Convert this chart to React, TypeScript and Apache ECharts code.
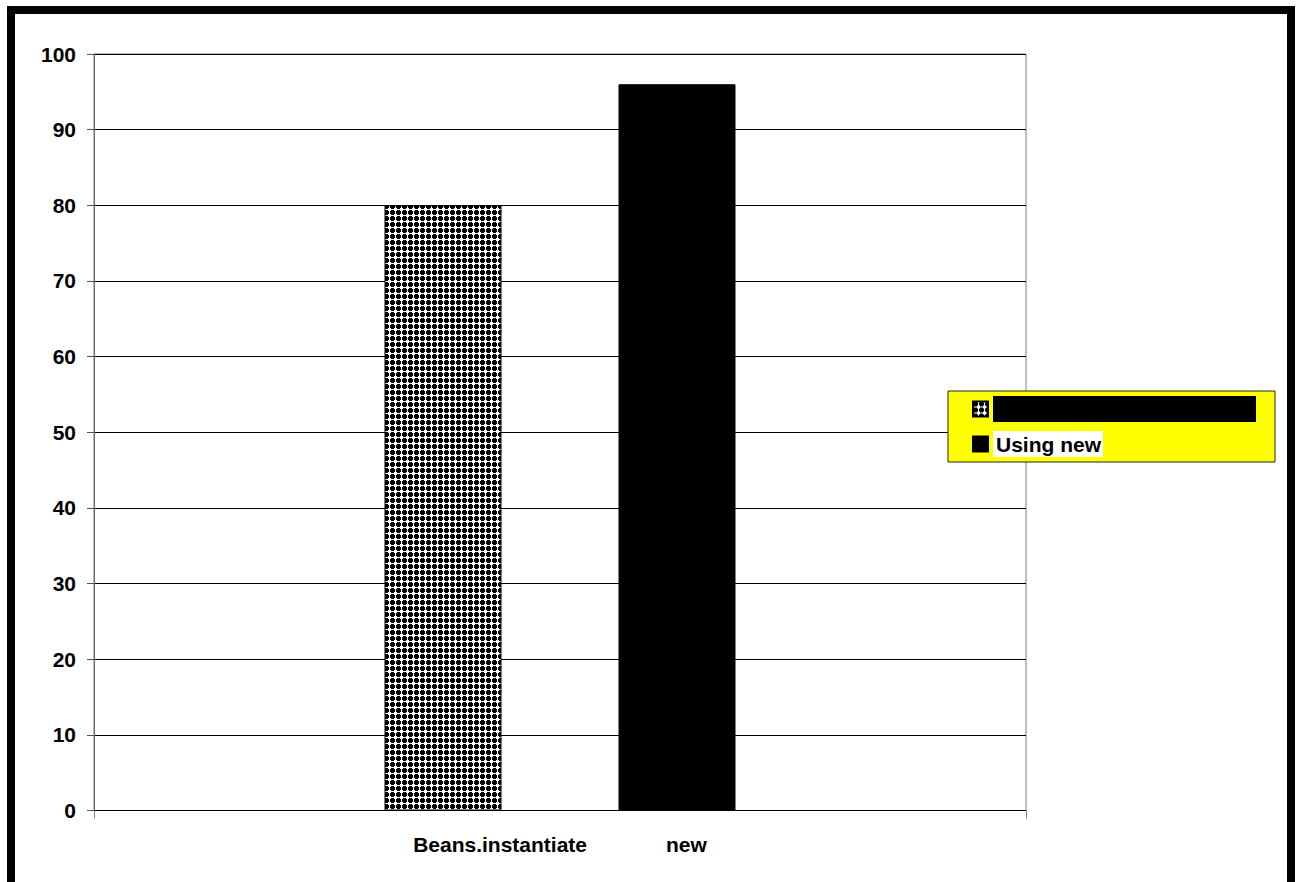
import React, { useEffect, useRef } from "react";
import * as echarts from "echarts";

// Bar labels drawn together under the single category
const barLabels = ["Beans.instantiate", "new"];
const categories = [barLabels.join(" ")];

// Series
const seriesNames = ["Using Beans.instantiate", "Using new"];
const beansValues = [80];
const newValues = [96];

// Value axis ticks
const yMin = 0;
const yMax = 100;
const yStep = 10;

const FONT = "Arial, 'Liberation Sans', Helvetica, sans-serif";

function makePatternCanvas(): HTMLCanvasElement {
  const size = 6;
  const c = document.createElement("canvas");
  c.width = size;
  c.height = size;
  const ctx = c.getContext("2d")!;
  ctx.fillStyle = "#ffffff";
  ctx.fillRect(0, 0, size, size);
  ctx.fillStyle = "#000000";
  // thick plus-shaped dot: 5x5 block without its corners
  ctx.fillRect(1, 0, 3, 5);
  ctx.fillRect(0, 1, 5, 3);
  return c;
}

export default function App() {
  const ref = useRef<HTMLDivElement>(null);

  useEffect(() => {
    if (!ref.current) return;
    const chart = echarts.init(ref.current, undefined, { renderer: "svg" });
    const pattern = makePatternCanvas();

    const option: any = {
      animation: false,
      backgroundColor: "#ffffff",
      grid: {
        left: 94,
        top: 54,
        right: 273,
        bottom: 71.5,
        show: true,
        borderColor: "#808080",
        borderWidth: 1,
        backgroundColor: "transparent",
      },
      legend: {
        orient: "vertical",
        left: 948,
        top: 391,
        padding: [5, 19, 5, 24],
        itemGap: 9,
        itemWidth: 15,
        itemHeight: 15,
        icon: "rect",
        backgroundColor: "#ffff00",
        borderColor: "#222222",
        borderWidth: 1,
        selectedMode: false,
        data: seriesNames,
        textStyle: {
          fontFamily: FONT,
          fontSize: 21,
          fontWeight: "bold",
          color: "#000",
          rich: {
            hid: {
              backgroundColor: "#000",
              width: 263,
              height: 26,
              fontSize: 21,
              color: "#000",
            },
            w: {
              backgroundColor: "#fff",
              padding: [3, 2, 2, 3],
              fontFamily: FONT,
              fontSize: 21,
              fontWeight: "bold",
              color: "#000",
            },
          },
        },
        formatter: (name: string) =>
          name === seriesNames[0] ? "{hid| }" : `{w|${name}}`,
      },
      xAxis: {
        type: "category",
        data: categories,
        boundaryGap: true,
        axisLine: { show: true, lineStyle: { color: "#000", width: 1 } },
        axisTick: { show: true, length: 8, lineStyle: { color: "#808080" } },
        axisLabel: {
          margin: 23,
          formatter: () => `{t|${barLabels[0]}}{gap|}{t|${barLabels[1]}}`,
          rich: {
            t: {
              fontFamily: FONT,
              fontSize: 21,
              fontWeight: "bold",
              color: "#000",
            },
            gap: { width: 79 },
          },
        },
        splitLine: { show: false },
      },
      yAxis: {
        type: "value",
        min: yMin,
        max: yMax,
        interval: yStep,
        axisLine: { show: true, lineStyle: { color: "#666666", width: 1 } },
        axisTick: { show: true, length: 7, lineStyle: { color: "#555555" } },
        axisLabel: {
          margin: 18,
          fontFamily: FONT,
          fontSize: 21,
          fontWeight: "bold",
          color: "#000",
        },
        splitLine: { show: true, lineStyle: { color: "#000", width: 1 } },
      },
      series: [
        {
          name: seriesNames[0],
          type: "bar",
          data: beansValues,
          barWidth: 117,
          barGap: "100%",
          itemStyle: {
            color: {
              image: pattern,
              repeat: "repeat",
              imageWidth: 6,
              imageHeight: 6,
            },
            borderColor: "#000",
            borderWidth: 1,
          },
        },
        {
          name: seriesNames[1],
          type: "bar",
          data: newValues,
          barWidth: 117,
          barGap: "100%",
          itemStyle: { color: "#000", borderColor: "#000", borderWidth: 1 },
        },
      ],
      graphic: [
        {
          type: "rect",
          z: 100,
          silent: true,
          shape: { x: 11, y: 10, width: 1280, height: 900 },
          style: { fill: "none", stroke: "#000", lineWidth: 8 },
        },
      ],
    };

    chart.setOption(option);
    return () => chart.dispose();
  }, []);

  return (
    <div
      ref={ref}
      style={{
        position: "absolute",
        left: 0,
        top: 0,
        width: 1299,
        height: 882,
        background: "#fff",
      }}
    />
  );
}
